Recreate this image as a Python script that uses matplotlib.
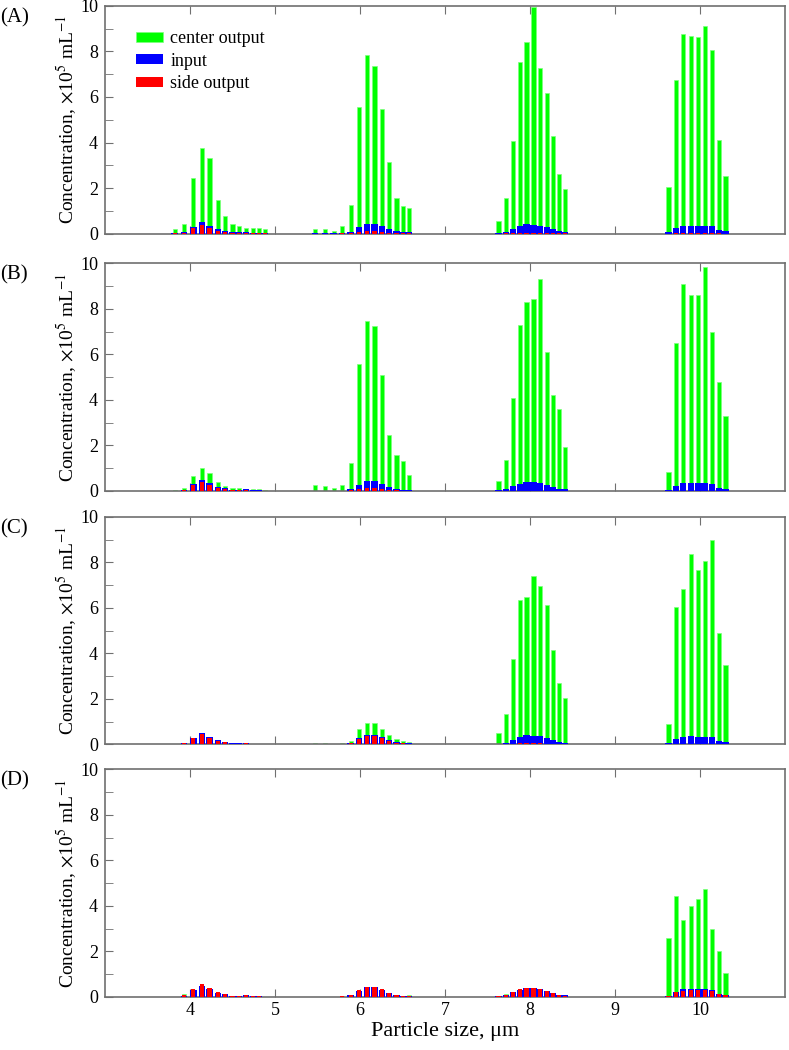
import matplotlib
matplotlib.use("Agg")
import matplotlib.pyplot as plt
import numpy as np

plt.rcParams["font.family"] = ["Liberation Serif", "DejaVu Serif"]
plt.rcParams["mathtext.fontset"] = "stix"

# bin centres (um) for the four particle populations
size_bins = [3.82, 3.93, 4.04, 4.14, 4.23, 4.33, 4.41, 4.50, 4.58, 4.66, 4.74, 4.81, 4.88,
             5.47, 5.59, 5.69, 5.79, 5.89, 5.99, 6.08, 6.17, 6.26, 6.34, 6.43, 6.51, 6.58,
             7.63, 7.72, 7.80, 7.88, 7.96, 8.04, 8.12, 8.20, 8.27, 8.34, 8.41,
             9.63, 9.72, 9.80, 9.89, 9.98, 10.06, 10.14, 10.22, 10.30]

# input concentration, same for every panel (x1e5 /mL)
input_conc = [0.01, 0.06, 0.29, 0.50, 0.34, 0.19, 0.12, 0.05, 0.05, 0.07, 0.04, 0.03, 0.02,
              0.01, 0.01, 0.01, 0.02, 0.08, 0.28, 0.42, 0.43, 0.32, 0.18, 0.10, 0.06, 0.05,
              0.03, 0.07, 0.20, 0.32, 0.41, 0.38, 0.35, 0.28, 0.18, 0.10, 0.07,
              0.05, 0.23, 0.34, 0.35, 0.34, 0.34, 0.31, 0.15, 0.10]

center_a = [0.20, 0.43, 2.44, 3.76, 3.32, 1.48, 0.79, 0.40, 0.34, 0.26, 0.26, 0.23, 0.18,
            0.22, 0.18, 0.10, 0.33, 1.25, 5.55, 7.85, 7.38, 5.46, 3.13, 1.54, 1.22, 1.11,
            0.56, 1.57, 4.07, 7.56, 8.40, 9.94, 7.28, 6.18, 4.30, 2.61, 1.95,
            2.05, 6.75, 8.75, 8.70, 8.65, 9.10, 8.05, 4.10, 2.52]
side_a = [0.01, 0.03, 0.24, 0.37, 0.23, 0.13, 0.07, 0.03, 0.02, 0.03, 0.02, 0.01, 0.01,
          0.00, 0.00, 0.00, 0.01, 0.03, 0.08, 0.12, 0.12, 0.08, 0.04, 0.02, 0.01, 0.01,
          0.00, 0.01, 0.02, 0.02, 0.02, 0.02, 0.02, 0.02, 0.01, 0.01, 0.01,
          0.00, 0.01, 0.01, 0.01, 0.01, 0.01, 0.01, 0.01, 0.00]

center_b = [0.05, 0.15, 0.65, 1.00, 0.80, 0.40, 0.20, 0.15, 0.12, 0.10, 0.10, 0.08, 0.05,
            0.25, 0.20, 0.15, 0.25, 1.25, 5.60, 7.45, 7.25, 5.10, 2.45, 1.60, 1.30, 0.70,
            0.45, 1.35, 4.10, 7.30, 8.30, 8.45, 9.30, 6.10, 4.20, 3.60, 1.95,
            0.85, 6.50, 9.10, 8.60, 8.60, 9.85, 7.00, 4.80, 3.30]
side_b = [0.01, 0.04, 0.28, 0.40, 0.28, 0.15, 0.08, 0.04, 0.03, 0.03, 0.02, 0.02, 0.01,
          0.00, 0.00, 0.00, 0.01, 0.04, 0.10, 0.13, 0.13, 0.10, 0.05, 0.03, 0.02, 0.01,
          0.00, 0.01, 0.01, 0.02, 0.02, 0.02, 0.02, 0.01, 0.01, 0.01, 0.01,
          0.00, 0.01, 0.01, 0.01, 0.01, 0.01, 0.01, 0.01, 0.00]

center_c = [0.02, 0.04, 0.06, 0.08, 0.06, 0.04, 0.03, 0.02, 0.02, 0.02, 0.02, 0.01, 0.01,
            0.05, 0.05, 0.04, 0.05, 0.15, 0.70, 0.95, 0.95, 0.70, 0.40, 0.25, 0.15, 0.10,
            0.50, 1.35, 3.75, 6.35, 6.50, 7.40, 6.95, 6.15, 4.15, 2.70, 2.05,
            0.90, 6.05, 6.85, 8.35, 7.65, 8.05, 9.00, 4.90, 3.50]
side_c = [0.01, 0.05, 0.30, 0.45, 0.30, 0.16, 0.09, 0.04, 0.04, 0.05, 0.03, 0.02, 0.01,
          0.01, 0.01, 0.01, 0.02, 0.08, 0.25, 0.35, 0.35, 0.28, 0.15, 0.08, 0.05, 0.04,
          0.01, 0.02, 0.04, 0.05, 0.06, 0.05, 0.05, 0.04, 0.03, 0.02, 0.01,
          0.00, 0.01, 0.01, 0.01, 0.01, 0.01, 0.01, 0.01, 0.00]

center_d = [0.02, 0.12, 0.10, 0.15, 0.12, 0.10, 0.08, 0.05, 0.04, 0.06, 0.03, 0.02, 0.02,
            0.02, 0.02, 0.02, 0.03, 0.06, 0.15, 0.25, 0.25, 0.18, 0.10, 0.06, 0.05, 0.08,
            0.02, 0.12, 0.15, 0.25, 0.30, 0.30, 0.28, 0.22, 0.15, 0.08, 0.10,
            2.60, 4.45, 3.40, 4.00, 4.30, 4.75, 3.00, 2.00, 1.05]
side_d = [0.02, 0.08, 0.35, 0.55, 0.38, 0.22, 0.13, 0.06, 0.06, 0.08, 0.05, 0.03, 0.02,
          0.01, 0.01, 0.02, 0.03, 0.10, 0.30, 0.42, 0.42, 0.33, 0.19, 0.10, 0.06, 0.05,
          0.03, 0.08, 0.22, 0.33, 0.40, 0.38, 0.35, 0.28, 0.18, 0.10, 0.06,
          0.03, 0.20, 0.28, 0.30, 0.30, 0.30, 0.28, 0.14, 0.08]

panel_labels = ["(A)", "(B)", "(C)", "(D)"]
center_sets = [center_a, center_b, center_c, center_d]
side_sets = [side_a, side_b, side_c, side_d]

x = np.array(size_bins)
fig = plt.figure(figsize=(7.89, 10.5), dpi=100)
bottoms = [0.7776, 0.5324, 0.2910, 0.0505]
height = 0.2167
spine_color = "#707070"

for i, (label, center, side) in enumerate(zip(panel_labels, center_sets, side_sets)):
    ax = fig.add_axes([0.133, bottoms[i], 0.862, height])
    ax.bar(x, center, width=0.05, color="#00ff00", edgecolor="#7dff7d",
           linewidth=0.5, label="center output", zorder=2)
    ax.bar(x, input_conc, width=0.075, color="#0000ff", label="input", zorder=3)
    ax.bar(x, side, width=0.05, color="#ff0000", label="side output", zorder=4)

    ax.set_xlim(3, 11)
    ax.set_ylim(0, 10)
    ax.set_xticks(range(4, 11))
    ax.set_yticks(range(0, 11, 2))
    ax.set_yticks(range(1, 10, 2), minor=True)
    ax.tick_params(axis="both", which="both", direction="in", length=6,
                   color=spine_color, labelsize=13, top=True)
    ax.tick_params(axis="y", pad=5)
    for spine in ax.spines.values():
        spine.set_color(spine_color)
        spine.set_linewidth(1.2)
    if i < 3:
        ax.tick_params(axis="x", labelbottom=False)
    else:
        ax.set_xlabel("Particle size, \u03bcm", fontsize=16, labelpad=2)
    ax.set_ylabel(r"Concentration, $\times$10$^5$ mL$^{-1}$", fontsize=14, labelpad=1)
    fig.text(0.0, bottoms[i] + height - 0.002, label, fontsize=15, va="top", ha="left")

    if i == 0:
        ax.legend(loc="upper left", bbox_to_anchor=(0.035, 0.925), frameon=False,
                  fontsize=13, handlelength=1.5, handleheight=0.5,
                  labelspacing=0.3, handletextpad=0.4, borderaxespad=0)

plt.savefig("out.png", dpi=100)
plt.close()
